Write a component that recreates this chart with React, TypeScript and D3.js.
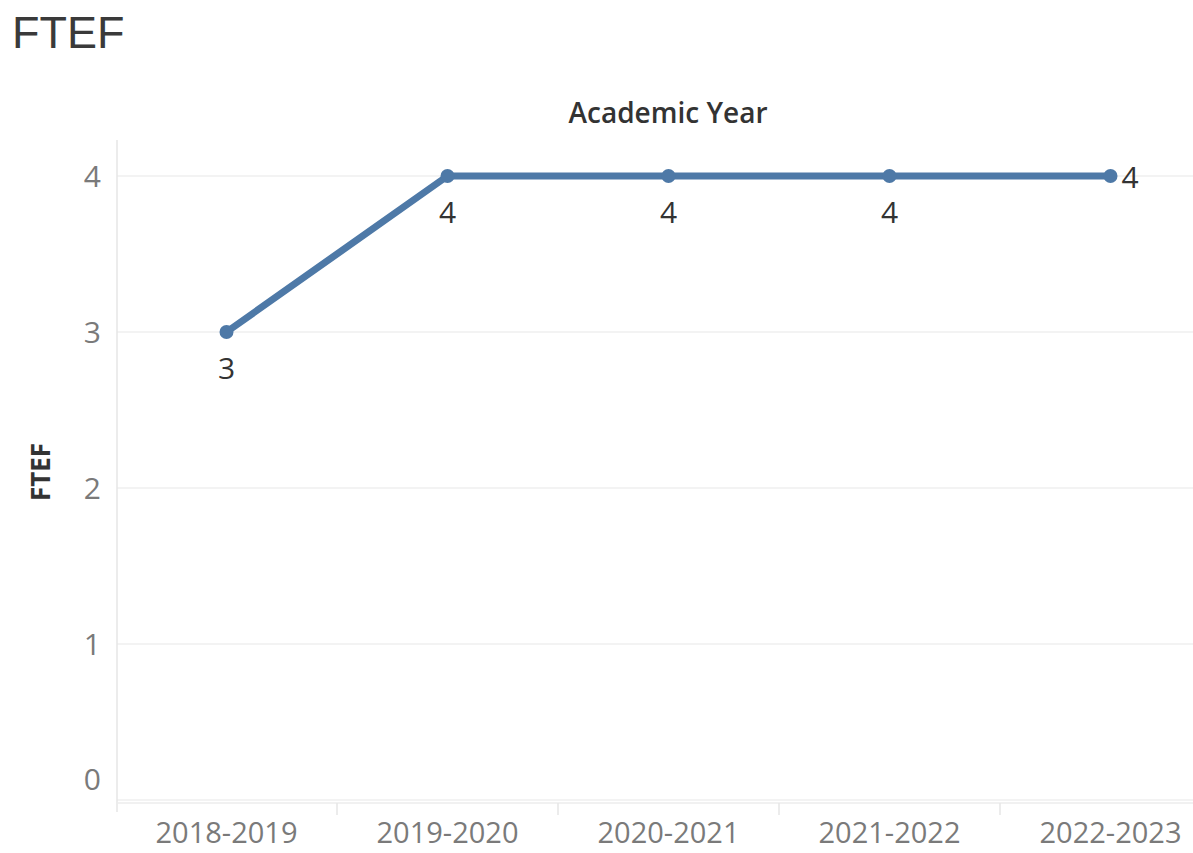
import React from "react";
import * as d3 from "d3";

const years = ["2018-2019", "2019-2020", "2020-2021", "2021-2022", "2022-2023"];
const ftef = [3, 4, 4, 4, 4];
const yTicks = [0, 1, 2, 3, 4];

const W = 1193;
const H = 853;
const FONT = "'Open Sans', 'Noto Sans', sans-serif";

export default function App() {
  const x = d3.scaleBand<string>().domain(years).range([116, 1221]).padding(0);
  const y = d3.scaleLinear().domain([0, 4]).range([800, 176]);
  const cx = (d: string) => (x(d) as number) + x.bandwidth() / 2;

  const line = d3
    .line<number>()
    .x((_, i) => cx(years[i]))
    .y((v) => y(v));

  const boundaries = years.slice(1).map((d) => x(d) as number);

  return (
    <svg
      width={W}
      height={H}
      style={{ position: "absolute", left: 0, top: 0, background: "#fff" }}
      fontFamily={FONT}
    >
      <text x={12} y={48} fontSize={45} fill="#3a3a3a" fontFamily="'Liberation Sans', Arial, sans-serif">
        FTEF
      </text>
      <text x={668} y={123} fontSize={28} fontWeight={600} fill="#333" textAnchor="middle">
        Academic Year
      </text>
      <text
        transform={`translate(50,472) rotate(-90)`}
        fontSize={26}
        fontWeight={700}
        fill="#333"
        textAnchor="middle"
      >
        FTEF
      </text>

      {/* gridlines */}
      {yTicks.map((t) => (
        <line key={t} x1={117} x2={W} y1={y(t)} y2={y(t)} stroke="#efefef" strokeWidth={1.5} />
      ))}
      {/* axes */}
      <line x1={117} x2={117} y1={140} y2={812} stroke="#e6e6e6" strokeWidth={1.5} />
      <line x1={117} x2={W} y1={803} y2={803} stroke="#ececec" strokeWidth={1.5} />
      {boundaries.map((b, i) => (
        <line key={i} x1={b} x2={b} y1={803} y2={815} stroke="#e6e6e6" strokeWidth={1.5} />
      ))}

      {/* y tick labels */}
      {yTicks.map((t) => (
        <text
          key={t}
          x={101}
          y={t === 0 ? 779 : y(t)}
          dy="0.35em"
          fontSize={30}
          fill="#7a7a7a"
          textAnchor="end"
        >
          {t}
        </text>
      ))}

      {/* x tick labels */}
      {years.map((d) => (
        <text key={d} x={cx(d)} y={843} fontSize={29} fill="#7a7a7a" textAnchor="middle">
          {d}
        </text>
      ))}

      {/* line */}
      <path d={line(ftef) || ""} fill="none" stroke="#4e79a7" strokeWidth={7} strokeLinejoin="round" />
      {ftef.map((v, i) => (
        <circle key={i} cx={cx(years[i])} cy={y(v)} r={7} fill="#4e79a7" />
      ))}

      {/* data labels */}
      {ftef.map((v, i) =>
        i === ftef.length - 1 ? (
          <text key={i} x={cx(years[i]) + 11} y={y(v) + 12} fontSize={30} fill="#333">
            {v}
          </text>
        ) : (
          <text key={i} x={cx(years[i])} y={y(v) + 47} fontSize={30} fill="#333" textAnchor="middle">
            {v}
          </text>
        )
      )}
    </svg>
  );
}
